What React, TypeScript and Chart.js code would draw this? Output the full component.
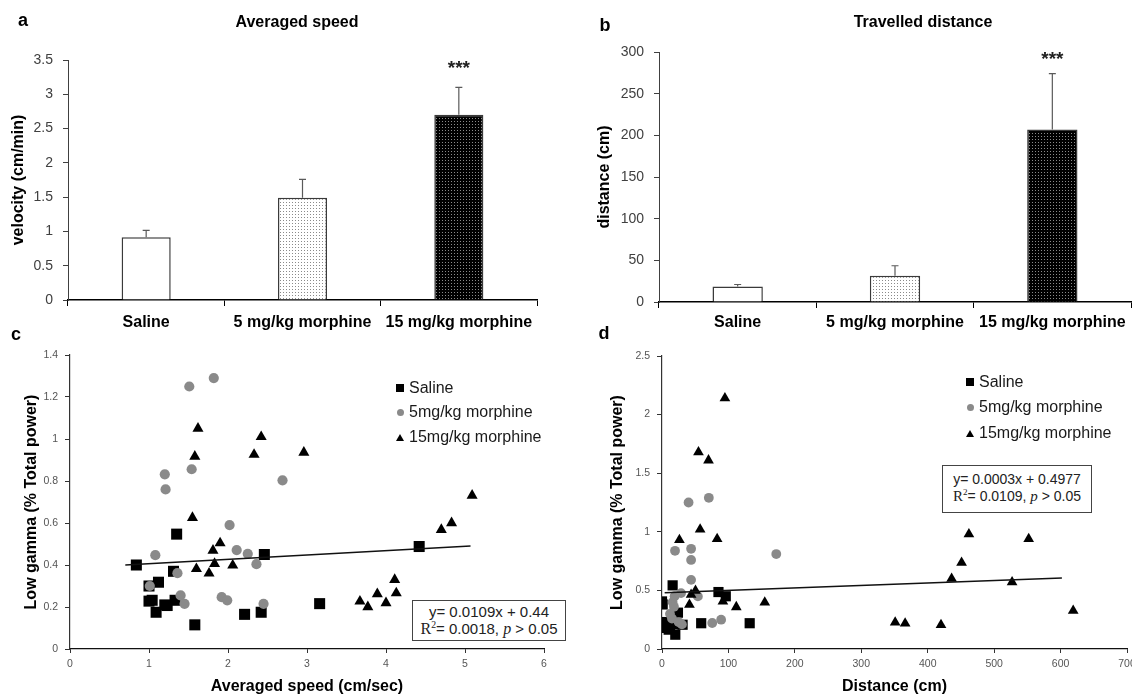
import React, { useEffect, useRef } from 'react';
import { Chart, registerables } from 'chart.js';

Chart.register(...registerables);

const FONT = '"Liberation Sans", Arial, sans-serif';
const SERIF = '"Liberation Serif", "Times New Roman", serif';

// ---------- Panels a & b (bar charts) ----------
const barCategories = ['Saline', '5 mg/kg morphine', '15 mg/kg morphine'];
const speedMeans = [0.915, 1.49, 2.7];
const speedErrors = [0.1, 0.27, 0.4];
const distanceMeans = [18.5, 31.5, 207];
const distanceErrors = [2.5, 12, 67];
const barSignificance = ['', '', '***'];

// ---------- Panel c (speed vs low gamma) ----------
const seriesNames = ['Saline', '5mg/kg morphine', '15mg/kg morphine'];

const salineSpeed = [0.84, 1.0, 1.12, 1.0, 1.04, 1.09, 1.2, 1.23, 1.31, 1.33, 1.35, 1.58, 2.21, 2.42, 2.46, 3.16, 4.42];
const salineSpeedGamma = [0.4, 0.3, 0.318, 0.228, 0.232, 0.175, 0.21, 0.207, 0.37, 0.232, 0.547, 0.115, 0.165, 0.175, 0.45, 0.216, 0.488];

const mor5Speed = [1.51, 1.82, 1.2, 1.21, 1.54, 2.69, 2.02, 1.08, 2.11, 2.25, 2.36, 1.36, 1.01, 1.4, 1.45, 1.92, 1.99, 2.45];
const mor5SpeedGamma = [1.25, 1.29, 0.832, 0.76, 0.856, 0.803, 0.59, 0.447, 0.471, 0.453, 0.404, 0.361, 0.3, 0.255, 0.215, 0.247, 0.232, 0.215];

const mor15Speed = [1.62, 1.58, 2.42, 2.33, 2.96, 1.55, 1.9, 1.81, 1.83, 1.6, 1.76, 2.06, 5.09, 4.83, 4.7, 4.11, 4.13, 3.89, 3.67, 3.77, 4.0];
const mor15SpeedGamma = [1.05, 0.917, 1.01, 0.926, 0.936, 0.625, 0.504, 0.469, 0.406, 0.382, 0.36, 0.398, 0.731, 0.6, 0.568, 0.33, 0.266, 0.262, 0.227, 0.2, 0.219];

const speedTrendX = [0.7, 5.07];
const speedTrendY = [0.4, 0.49];
const speedFitText = 'y= 0.0109x + 0.44';
const speedR2Text = '= 0.0018, ';

// ---------- Panel d (distance vs low gamma) ----------
const salineDist = [16, 0, 1, 0, 7, 20, 24, 31, 10, 59, 85, 96, 132, 5, 18, 12];
const salineDistGamma = [0.543, 0.406, 0.38, 0.22, 0.18, 0.122, 0.31, 0.207, 0.165, 0.22, 0.486, 0.45, 0.22, 0.23, 0.21, 0.2];

const mor5Dist = [40, 70.5, 19.6, 43.8, 43.8, 43.8, 172, 28.7, 54, 75.6, 89, 16, 19, 12, 18, 15, 25, 30];
const mor5DistGamma = [1.25, 1.29, 0.838, 0.855, 0.76, 0.59, 0.81, 0.477, 0.449, 0.222, 0.25, 0.4, 0.45, 0.3, 0.36, 0.26, 0.23, 0.21];

const mor15Dist = [94.7, 54.9, 70, 57.4, 26.2, 83, 50.4, 43.8, 41.3, 91.7, 111.8, 154.7, 462, 552, 451, 436, 527, 619, 351, 366, 420];
const mor15DistGamma = [2.14, 1.68, 1.61, 1.02, 0.93, 0.94, 0.497, 0.463, 0.378, 0.406, 0.358, 0.398, 0.98, 0.94, 0.736, 0.6, 0.57, 0.327, 0.227, 0.219, 0.205];

const distTrendX = [4, 602];
const distTrendY = [0.48, 0.605];
const distFitText = 'y= 0.0003x + 0.4977';
const distR2Text = '= 0.0109, ';

const toPoints = (xs: number[], ys: number[]) => xs.map((x, i) => ({ x, y: ys[i] }));
const plainTick = (v: any) => String(+Number(v).toFixed(3));

function makeDotPattern(bg: string, dot: string, size: number) {
  const c = document.createElement('canvas');
  c.width = size;
  c.height = size;
  const g = c.getContext('2d')!;
  g.fillStyle = bg;
  g.fillRect(0, 0, size, size);
  g.fillStyle = dot;
  g.fillRect(1, 1, 1, 1);
  return g.createPattern(c, 'repeat')!;
}

const errorBarPlugin = {
  id: 'errorBars',
  afterDatasetsDraw(chart: any, _args: any, opts: any) {
    const meta = chart.getDatasetMeta(0);
    const yScale = chart.scales.y;
    const values = chart.data.datasets[0].data as number[];
    const ctx = chart.ctx as CanvasRenderingContext2D;
    ctx.save();
    meta.data.forEach((bar: any, i: number) => {
      const top = yScale.getPixelForValue(values[i] + opts.errors[i]);
      ctx.strokeStyle = '#5a5a5a';
      ctx.lineWidth = 1.2;
      ctx.beginPath();
      ctx.moveTo(bar.x, bar.y);
      ctx.lineTo(bar.x, top);
      ctx.moveTo(bar.x - 3.5, top);
      ctx.lineTo(bar.x + 3.5, top);
      ctx.stroke();
      if (opts.labels[i]) {
        ctx.fillStyle = '#222';
        ctx.font = `bold 19px ${FONT}`;
        ctx.textAlign = 'center';
        ctx.textBaseline = 'alphabetic';
        ctx.fillText(opts.labels[i], bar.x, top - opts.starOffset);
      }
    });
    ctx.restore();
  },
};

function barChart(
  canvas: HTMLCanvasElement,
  means: number[],
  errors: number[],
  fills: any[],
  yMax: number,
  yStep: number,
  yTitle: string,
  L: { padTop: number; padRight: number; xH: number; yW: number; titlePad: number; labelPad: number; starOffset: number; barPct: number }
) {
  return new Chart(canvas, {
    type: 'bar',
    data: {
      labels: barCategories,
      datasets: [
        {
          data: means,
          backgroundColor: fills,
          borderColor: '#3a3a3a',
          borderWidth: 1.5,
          barPercentage: L.barPct,
          categoryPercentage: 1,
        },
      ],
    },
    plugins: [errorBarPlugin],
    options: {
      responsive: false,
      animation: false,
      events: [],
      layout: { padding: { top: L.padTop, right: L.padRight, left: 0, bottom: 0 } },
      plugins: {
        legend: { display: false },
        tooltip: { enabled: false },
        errorBars: { errors, labels: barSignificance, starOffset: L.starOffset },
      } as any,
      scales: {
        x: {
          grid: { offset: true, drawOnChartArea: false, drawTicks: true, tickLength: 6, color: '#000', lineWidth: 1 },
          border: { color: '#000', width: 1.5 },
          ticks: {
            font: { family: FONT, size: 16, weight: 'bold' },
            color: '#000',
            padding: L.labelPad,
            maxRotation: 0,
            minRotation: 0,
            autoSkip: false,
          },
          afterFit: (s: any) => {
            s.height = L.xH;
          },
        },
        y: {
          min: 0,
          max: yMax,
          ticks: { stepSize: yStep, font: { family: FONT, size: 14 }, color: '#404040', padding: 10, callback: plainTick },
          grid: { drawOnChartArea: false, drawTicks: true, tickLength: 5, color: '#404040' },
          border: { color: '#404040', width: 1 },
          title: {
            display: true,
            text: yTitle,
            font: { family: FONT, size: 16, weight: 'bold' },
            color: '#000',
            padding: { top: L.titlePad, bottom: 0 },
          },
          afterFit: (s: any) => {
            s.width = L.yW;
          },
        },
      },
    } as any,
  });
}

function scatterChart(
  canvas: HTMLCanvasElement,
  sets: { saline: any[]; mor5: any[]; mor15: any[]; trend: any[] },
  xMax: number,
  xStep: number,
  yMax: number,
  yStep: number,
  xTitle: string,
  L: { padTop: number; padRight: number; xH: number; yW: number; titlePad: number; sq: number; ci: number; tr: number }
) {
  return new Chart(canvas, {
    type: 'scatter',
    data: {
      datasets: [
        {
          data: sets.trend,
          showLine: true,
          borderColor: '#111',
          borderWidth: 1.5,
          pointRadius: 0,
          order: 0,
        },
        {
          data: sets.mor15,
          pointStyle: 'triangle',
          pointRadius: L.tr,
          backgroundColor: '#000',
          borderColor: '#000',
          borderWidth: 0,
          order: 1,
        },
        {
          data: sets.mor5,
          pointStyle: 'circle',
          pointRadius: L.ci,
          backgroundColor: '#8a8a8a',
          borderColor: '#8a8a8a',
          borderWidth: 0,
          order: 2,
        },
        {
          data: sets.saline,
          pointStyle: 'rect',
          pointRadius: L.sq,
          backgroundColor: '#000',
          borderColor: '#000',
          borderWidth: 0,
          order: 3,
        },
      ],
    },
    options: {
      responsive: false,
      animation: false,
      events: [],
      layout: { padding: { top: L.padTop, right: L.padRight, left: 0, bottom: 0 } },
      plugins: { legend: { display: false }, tooltip: { enabled: false } },
      scales: {
        x: {
          type: 'linear',
          min: 0,
          max: xMax,
          ticks: { stepSize: xStep, font: { family: FONT, size: 10.5 }, color: '#555', padding: 5, callback: plainTick },
          grid: { drawOnChartArea: false, drawTicks: true, tickLength: 4, color: '#333' },
          border: { color: '#111', width: 1.2 },
          title: {
            display: true,
            text: xTitle,
            font: { family: FONT, size: 16, weight: 'bold', lineHeight: 1 },
            color: '#000',
            padding: { top: 0, bottom: 0 },
          },
          afterFit: (s: any) => {
            s.height = L.xH;
          },
        },
        y: {
          min: 0,
          max: yMax,
          ticks: { stepSize: yStep, font: { family: FONT, size: 10.5 }, color: '#555', padding: 7, callback: plainTick },
          grid: { drawOnChartArea: false, drawTicks: true, tickLength: 5, color: '#333' },
          border: { color: '#333', width: 1.2 },
          title: {
            display: true,
            text: 'Low gamma (% Total power)',
            font: { family: FONT, size: 16, weight: 'bold' },
            color: '#000',
            padding: { top: L.titlePad, bottom: 0 },
          },
          afterFit: (s: any) => {
            s.width = L.yW;
          },
        },
      },
    } as any,
  });
}

const Txt = ({ x, y, size, bold, children }: any) => (
  <div
    style={{
      position: 'absolute',
      left: x,
      top: y,
      transform: 'translate(-50%, -50%)',
      fontSize: size,
      fontWeight: bold ? 'bold' : 'normal',
      lineHeight: 1,
      whiteSpace: 'nowrap',
    }}
  >
    {children}
  </div>
);

const markers = [
  <span style={{ display: 'inline-block', width: 8, height: 8, background: '#000' }} />,
  <span style={{ display: 'inline-block', width: 7, height: 7, borderRadius: '50%', background: '#8a8a8a' }} />,
  <span
    style={{
      display: 'inline-block',
      width: 0,
      height: 0,
      borderLeft: '4px solid transparent',
      borderRight: '4px solid transparent',
      borderBottom: '7px solid #000',
    }}
  />,
];

const LegendBox = ({ x, ys }: { x: number; ys: number[] }) => (
  <>
    {seriesNames.map((name, i) => (
      <div
        key={name}
        style={{
          position: 'absolute',
          left: x - 5,
          top: ys[i],
          transform: 'translateY(-50%)',
          display: 'flex',
          alignItems: 'center',
          fontSize: 16,
          lineHeight: 1,
          whiteSpace: 'nowrap',
          color: '#1a1a1a',
        }}
      >
        <span style={{ width: 10, display: 'flex', justifyContent: 'center', marginRight: 4 }}>{markers[i]}</span>
        {name}
      </div>
    ))}
  </>
);

const StatsBox = ({ left, top, width, height, size, fit, r2 }: any) => (
  <div
    style={{
      position: 'absolute',
      left,
      top,
      width,
      height,
      border: '1.5px solid #444',
      boxSizing: 'border-box',
      display: 'flex',
      flexDirection: 'column',
      justifyContent: 'center',
      alignItems: 'center',
      fontSize: size,
      lineHeight: '17px',
      color: '#222',
      whiteSpace: 'nowrap',
      background: '#fff',
    }}
  >
    <div>{fit}</div>
    <div>
      <span style={{ fontFamily: SERIF, fontSize: size + 1 }}>R</span>
      <span style={{ fontFamily: SERIF, fontSize: size * 0.65, position: 'relative', top: -size * 0.4 }}>2</span>
      {r2}
      <i style={{ fontFamily: SERIF, fontSize: size + 1 }}>p</i> &gt; 0.05
    </div>
  </div>
);

export default function App() {
  const refA = useRef<HTMLCanvasElement>(null);
  const refB = useRef<HTMLCanvasElement>(null);
  const refC = useRef<HTMLCanvasElement>(null);
  const refD = useRef<HTMLCanvasElement>(null);

  useEffect(() => {
    document.body.style.margin = '0';
    Chart.defaults.font.family = FONT;
    const light = makeDotPattern('#ffffff', '#8a8a8a', 3);
    const dark = makeDotPattern('#000000', '#8a8a8a', 3);
    const fills = ['#ffffff', light, dark];

    const charts = [
      barChart(refA.current!, speedMeans, speedErrors, fills, 3.5, 0.5, 'velocity (cm/min)', {
        padTop: 60,
        padRight: 23,
        xH: 40,
        yW: 68,
        titlePad: 9,
        labelPad: 7,
        starOffset: 13,
        barPct: 0.314,
      }),
      barChart(refB.current!, distanceMeans, distanceErrors, fills, 300, 50, 'distance (cm)', {
        padTop: 52,
        padRight: 1,
        xH: 38,
        yW: 93,
        titlePad: 29,
        labelPad: 5,
        starOffset: 9,
        barPct: 0.32,
      }),
      scatterChart(
        refC.current!,
        {
          saline: toPoints(salineSpeed, salineSpeedGamma),
          mor5: toPoints(mor5Speed, mor5SpeedGamma),
          mor15: toPoints(mor15Speed, mor15SpeedGamma),
          trend: toPoints(speedTrendX, speedTrendY),
        },
        6,
        1,
        1.4,
        0.2,
        'Averaged speed (cm/sec)',
        { padTop: 25, padRight: 22, xH: 46, yW: 70, titlePad: 22, sq: 7.8, ci: 5.1, tr: 6.4 }
      ),
      scatterChart(
        refD.current!,
        {
          saline: toPoints(salineDist, salineDistGamma),
          mor5: toPoints(mor5Dist, mor5DistGamma),
          mor15: toPoints(mor15Dist, mor15DistGamma),
          trend: toPoints(distTrendX, distTrendY),
        },
        700,
        100,
        2.5,
        0.5,
        'Distance (cm)',
        { padTop: 26, padRight: 23, xH: 46, yW: 96, titlePad: 42, sq: 7.2, ci: 4.9, tr: 6.2 }
      ),
    ];
    return () => charts.forEach((c) => c.destroy());
  }, []);

  return (
    <div
      style={{
        position: 'relative',
        width: 1132,
        height: 695,
        overflow: 'hidden',
        background: '#fff',
        fontFamily: FONT,
        color: '#000',
      }}
    >
      <canvas ref={refA} width={560} height={340} style={{ position: 'absolute', left: 0, top: 0 }} />
      <canvas ref={refB} width={566} height={340} style={{ position: 'absolute', left: 566, top: 0 }} />
      <canvas ref={refC} width={566} height={365} style={{ position: 'absolute', left: 0, top: 330 }} />
      <canvas ref={refD} width={584} height={365} style={{ position: 'absolute', left: 566, top: 330 }} />

      <Txt x={23} y={20} size={18} bold>
        a
      </Txt>
      <Txt x={297} y={22} size={16} bold>
        Averaged speed
      </Txt>
      <Txt x={605} y={25} size={18} bold>
        b
      </Txt>
      <Txt x={923} y={22} size={16} bold>
        Travelled distance
      </Txt>
      <Txt x={16} y={334} size={18} bold>
        c
      </Txt>
      <Txt x={604} y={333} size={18} bold>
        d
      </Txt>

      <LegendBox x={400} ys={[388, 412, 437]} />
      <LegendBox x={970} ys={[382, 407, 433]} />

      <StatsBox left={412} top={600} width={154} height={41} size={15} fit={speedFitText} r2={speedR2Text} />
      <StatsBox left={942} top={465} width={150} height={48} size={14} fit={distFitText} r2={distR2Text} />
    </div>
  );
}
